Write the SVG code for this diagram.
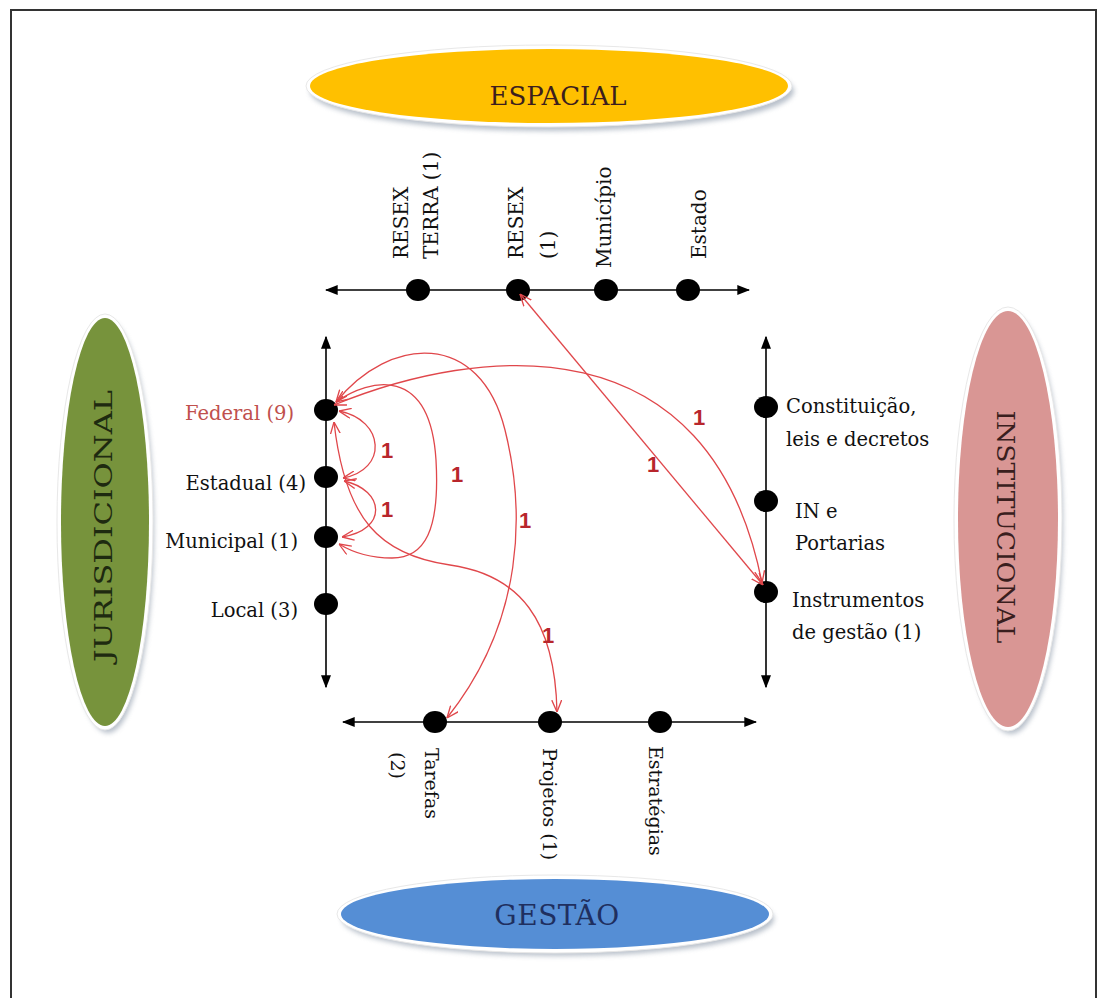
<svg xmlns="http://www.w3.org/2000/svg" width="1098" height="998" viewBox="0 0 1098 998">
<defs>
<style>
.lbl{font-family:"DejaVu Serif","Liberation Serif",serif;font-size:19.5px;fill:#111}
.top{font-size:20px}
.bot{font-size:19px}
.big{font-family:"DejaVu Serif","Liberation Serif",serif;font-size:24px}
.num{font-family:"Liberation Sans",Arial,sans-serif;font-weight:bold;font-size:22px;fill:#b8262c;text-anchor:middle}
.axis{stroke:#000;stroke-width:1.6;fill:none;marker-start:url(#ax);marker-end:url(#ax)}
.dot{fill:#000}
.con{stroke:#e0474b;stroke-width:1.3;fill:none;marker-start:url(#ah);marker-end:url(#ah)}
.rim{fill:#fff;stroke:#e8e8e8;stroke-width:1}
</style>
<marker id="ax" viewBox="0 0 10 10" refX="9" refY="5" markerWidth="13" markerHeight="10" markerUnits="userSpaceOnUse" orient="auto-start-reverse" preserveAspectRatio="none"><path d="M0,0 L10,5 L0,10 Z" fill="#000"/></marker>
<marker id="ah" viewBox="0 0 10 10" refX="10" refY="5" markerWidth="12" markerHeight="11" markerUnits="userSpaceOnUse" orient="auto-start-reverse" preserveAspectRatio="none"><path d="M0,0.5 L10,5 L0,9.5" fill="none" stroke="#e0474b" stroke-width="1.2"/></marker>
<filter id="sh" x="-20%" y="-20%" width="140%" height="140%"><feGaussianBlur stdDeviation="2.5"/></filter>
</defs>
<rect width="1098" height="998" fill="#fff"/>
<rect x="11" y="10" width="1085" height="1010" fill="none" stroke="#333" stroke-width="2"/>

<g id="espacial">
<ellipse cx="552" cy="91" rx="242" ry="40" fill="#8a97a8" opacity="0.6" filter="url(#sh)"/>
<ellipse cx="549" cy="86" rx="243" ry="41" class="rim"/>
<ellipse cx="549" cy="86" rx="239" ry="37" fill="#ffc000"/>
<text x="558" y="105" class="big" style="font-size:26px;fill:#3c1e1e" text-anchor="middle">ESPACIAL</text>
</g>

<g id="gestao">
<ellipse cx="558" cy="919" rx="216" ry="37" fill="#8a97a8" opacity="0.6" filter="url(#sh)"/>
<ellipse cx="555" cy="914" rx="218" ry="39" class="rim"/>
<ellipse cx="555" cy="914" rx="214" ry="35" fill="#558ed5"/>
<text x="557" y="925" class="big" style="font-size:28px;fill:#1f2f5f" text-anchor="middle" letter-spacing="0.5">GESTÃO</text>
</g>

<g id="jurisdicional">
<ellipse cx="108" cy="527" rx="46" ry="206" fill="#8a97a8" opacity="0.6" filter="url(#sh)"/>
<ellipse cx="105" cy="522" rx="48" ry="208" class="rim"/>
<ellipse cx="105" cy="522" rx="44" ry="204" fill="#77933c"/>
<text transform="translate(112,526) rotate(-90)" class="big" style="fill:#1e2a10" text-anchor="middle" textLength="272" lengthAdjust="spacingAndGlyphs">JURISDICIONAL</text>
</g>

<g id="institucional">
<ellipse cx="1011" cy="524" rx="52" ry="210" fill="#8a97a8" opacity="0.6" filter="url(#sh)"/>
<ellipse cx="1008" cy="519" rx="54" ry="212" class="rim"/>
<ellipse cx="1008" cy="519" rx="50" ry="208" fill="#d99694"/>
<text transform="translate(997,527) rotate(90)" class="big" style="fill:#3a1e1e" text-anchor="middle" textLength="233" lengthAdjust="spacingAndGlyphs">INSTITUCIONAL</text>
</g>

<g id="axes">
<line x1="326" y1="290" x2="749" y2="290" class="axis"/>
<line x1="326" y1="337" x2="326" y2="687" class="axis"/>
<line x1="766" y1="337" x2="766" y2="687" class="axis"/>
<line x1="343" y1="722" x2="756" y2="722" class="axis"/>
</g>

<g id="espacial-nodes">
<g id="resex-terra"><ellipse cx="418" cy="290" rx="12" ry="11" class="dot"/>
<text transform="translate(408,259) rotate(-90)" class="lbl top">RESEX</text>
<text transform="translate(438,259) rotate(-90)" class="lbl top">TERRA (1)</text></g>
<g id="resex"><ellipse cx="518" cy="290" rx="12" ry="11" class="dot"/>
<text transform="translate(523,259) rotate(-90)" class="lbl top">RESEX</text>
<text transform="translate(555,259) rotate(-90)" class="lbl top">(1)</text></g>
<g id="municipio"><ellipse cx="606" cy="290" rx="12" ry="11" class="dot"/>
<text transform="translate(611,268) rotate(-90)" class="lbl top">Município</text></g>
<g id="estado"><ellipse cx="688" cy="290" rx="12" ry="11" class="dot"/>
<text transform="translate(706,259) rotate(-90)" class="lbl top">Estado</text></g>
</g>

<g id="jurisdicional-nodes">
<g id="federal"><ellipse cx="326" cy="410" rx="12" ry="11" class="dot"/>
<text x="294" y="420" class="lbl" text-anchor="end" style="fill:#c0504d">Federal (9)</text></g>
<g id="estadual"><ellipse cx="326" cy="477" rx="12" ry="11" class="dot"/>
<text x="306" y="490" class="lbl" text-anchor="end">Estadual (4)</text></g>
<g id="municipal"><ellipse cx="326" cy="537" rx="12" ry="11" class="dot"/>
<text x="298" y="548" class="lbl" text-anchor="end">Municipal (1)</text></g>
<g id="local"><ellipse cx="326" cy="604" rx="12" ry="11" class="dot"/>
<text x="298" y="617" class="lbl" text-anchor="end">Local (3)</text></g>
</g>

<g id="institucional-nodes">
<g id="constituicao"><ellipse cx="766" cy="407" rx="12" ry="11" class="dot"/>
<text x="786" y="413" class="lbl">Constituição,</text>
<text x="786" y="446" class="lbl">leis e decretos</text></g>
<g id="in-portarias"><ellipse cx="766" cy="501" rx="12" ry="11" class="dot"/>
<text x="795" y="518" class="lbl">IN e</text>
<text x="795" y="550" class="lbl">Portarias</text></g>
<g id="instrumentos"><ellipse cx="766" cy="592" rx="12" ry="11" class="dot"/>
<text x="792" y="607" class="lbl">Instrumentos</text>
<text x="792" y="639" class="lbl">de gestão (1)</text></g>
</g>

<g id="gestao-nodes">
<g id="tarefas"><ellipse cx="435" cy="722" rx="12" ry="11" class="dot"/>
<text transform="translate(425,748) rotate(90)" class="lbl bot">Tarefas</text>
<text transform="translate(391,752) rotate(90)" class="lbl bot">(2)</text></g>
<g id="projetos"><ellipse cx="550" cy="722" rx="12" ry="11" class="dot"/>
<text transform="translate(543,748) rotate(90)" class="lbl bot">Projetos (1)</text></g>
<g id="estrategias"><ellipse cx="660" cy="722" rx="12" ry="11" class="dot"/>
<text transform="translate(649,746) rotate(90)" class="lbl bot">Estratégias</text></g>
</g>

<g id="connectors">
<path class="con" d="M520,294 L763,585"/>
<path class="con" d="M334,405 C480,345 710,320 762,583"/>
<path class="con" d="M339,411 C385,420 388,470 343,478"/>
<path class="con" d="M344,481 C385,490 388,530 342,537"/>
<path class="con" d="M336,402 C370,378 430,365 436,460 C440,530 425,558 392,558 C370,558 352,552 339,544"/>
<path class="con" d="M336,402 C390,335 480,330 505,430 C525,510 525,620 447,718"/>
<path class="con" d="M334,422 C345,520 380,555 450,565 C520,575 555,620 557,712"/>
</g>

<g id="counts">
<text x="387" y="458" class="num">1</text>
<text x="387" y="517" class="num">1</text>
<text x="457" y="482" class="num">1</text>
<text x="525" y="528" class="num">1</text>
<text x="548" y="643" class="num">1</text>
<text x="653" y="472" class="num">1</text>
<text x="699" y="425" class="num">1</text>
</g>
</svg>
